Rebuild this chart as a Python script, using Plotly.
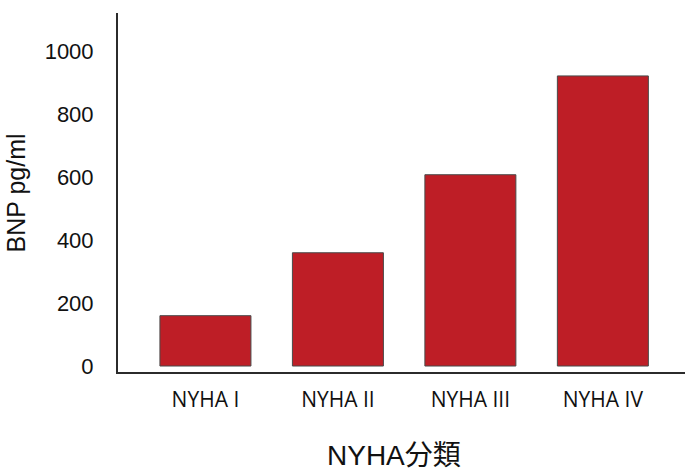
import plotly.graph_objects as go

# BNP level by NYHA functional class
categories = ["NYHA I", "NYHA II", "NYHA III", "NYHA IV"]
bnp_values = [160, 360, 608, 922]
y_ticks = [0, 200, 400, 600, 800, 1000]

fig = go.Figure(
    go.Bar(
        x=categories,
        y=bnp_values,
        width=0.687,
        marker=dict(color="#BE1E26", line=dict(color="#4a4a4a", width=1)),
        hoverinfo="x+y",
    )
)

fig.update_layout(
    width=685,
    height=472,
    margin=dict(l=118, r=0, t=13, b=100),
    paper_bgcolor="white",
    plot_bgcolor="white",
    showlegend=False,
    font=dict(family="Liberation Sans, Arial, sans-serif", color="#111111"),
    xaxis=dict(
        type="category",
        range=[-0.66, 3.62],
        showline=True,
        linecolor="#2b2b2b",
        linewidth=2,
        showgrid=False,
        zeroline=False,
        ticks="outside",
        ticklen=8,
        tickcolor="rgba(0,0,0,0)",
        tickfont=dict(family="Open Sans", size=21, color="#111111"),
    ),
    yaxis=dict(
        range=[-19, 1122],
        tickvals=y_ticks,
        showline=True,
        linecolor="#2b2b2b",
        linewidth=2,
        showgrid=False,
        zeroline=False,
        ticks="outside",
        ticklen=18,
        tickcolor="rgba(0,0,0,0)",
        tickfont=dict(size=22, color="#111111"),
    ),
    annotations=[
        dict(
            text="BNP pg/ml",
            xref="paper", yref="paper",
            x=-0.18, y=0.5,
            xanchor="center", yanchor="middle",
            textangle=-90,
            showarrow=False,
            font=dict(size=25, color="#111111"),
        ),
        dict(
            text="NYHA分類",
            xref="paper", yref="paper",
            x=0.487, y=-0.233,
            xanchor="center", yanchor="middle",
            showarrow=False,
            font=dict(family="Liberation Sans, Noto Sans CJK JP, sans-serif", size=28, color="#111111"),
        ),
    ],
)

fig.write_html("out.html")
